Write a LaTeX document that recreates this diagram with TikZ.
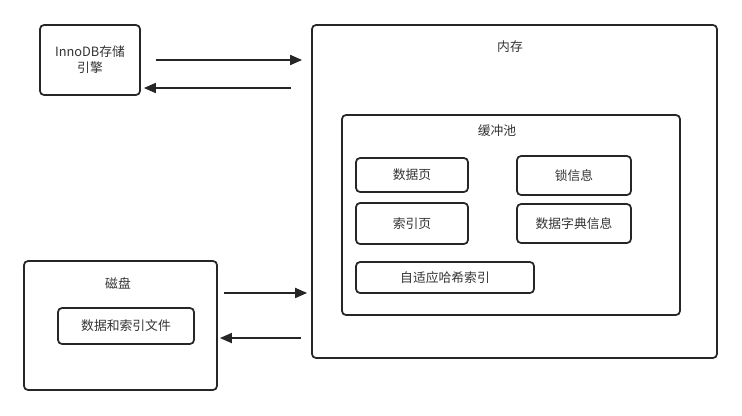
\documentclass[tikz,border=0pt]{standalone}
\usepackage{fontspec}
\newfontfamily\cjk{Noto Sans CJK SC}
\usepackage{xcolor}
\usetikzlibrary{positioning, arrows.meta}
\definecolor{ink}{HTML}{262626}
\definecolor{txt}{HTML}{333333}

\begin{document}
\begin{tikzpicture}[x=0.75pt, y=-0.75pt,
			every node/.style={font=\cjk\fontsize{9.6pt}{12pt}\selectfont, text=txt},
			bx/.style={draw=ink, line width=1.3pt, rounded corners=3pt, inner sep=0pt, align=center},
			lbl/.style={inner sep=1pt},
			ar/.style={-{Triangle[length=9pt, width=7.5pt]}, draw=ink, line width=1.3pt}]
			\useasboundingbox (0,0) rectangle (742,415);
			% 左侧：引擎与磁盘
			\node[bx, minimum width=75pt, minimum height=52.5pt] (inno) at (90,60) {InnoDB存储\\引擎};
			\node[bx, minimum width=144.75pt, minimum height=96.75pt] (disk) at (120.5,325.5) {};
			\node[lbl] (diskt) at (118,283) {磁盘};
			\node[bx, minimum width=102pt, minimum height=27pt] (file) at (126,326) {数据和索引文件};
			% 右侧：内存与缓冲池
			\node[bx, minimum width=303.75pt, minimum height=249.75pt] (mem) at (514.5,191.5) {};
			\node[lbl] (memt) at (510,47) {内存};
			\node[bx, minimum width=253.5pt, minimum height=150pt] (pool) at (511,215) {};
			\node[lbl] (poolt) at (497,131) {缓冲池};
			\node[bx, minimum width=84pt, minimum height=25.5pt] (dpage) at (412,175) {数据页};
			\node[bx, minimum width=85.5pt, minimum height=29.25pt] (lock) at (574,175.5) {锁信息};
			\node[bx, minimum width=84pt, minimum height=30.75pt] (ipage) at (412,223.5) {索引页};
			\node[bx, minimum width=85.5pt, minimum height=29.25pt] (dict) at (574,223.5) {数据字典信息};
			\node[bx, minimum width=133.5pt, minimum height=23.25pt] (hash) at (445,277.5) {自适应哈希索引};
			% 往返箭头
			\draw[ar] ([xshift=11pt]inno.east) -- ([xshift=-6.75pt]inno.east -| mem.west);
			\draw[ar] ([xshift=-15pt, yshift=-21pt]inno.east -| mem.west) -- ([xshift=2.25pt, yshift=-21pt]inno.east);
			\draw[ar] ([xshift=4.5pt, yshift=24.4pt]disk.east) -- ([xshift=-3pt, yshift=24.4pt]disk.east -| mem.west);
			\draw[ar] ([xshift=-7.5pt, yshift=-9.4pt]disk.east -| mem.west) -- ([xshift=1.5pt, yshift=-9.4pt]disk.east);
		\end{tikzpicture}
\end{document}
